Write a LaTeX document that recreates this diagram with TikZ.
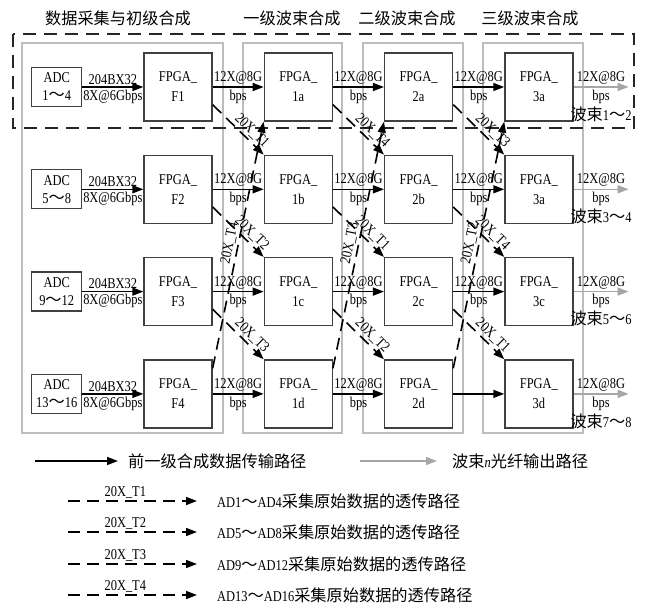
\documentclass[tikz,border=0pt]{standalone}
\usepackage{fontspec}
\setmainfont{Liberation Serif}[FakeStretch=0.83]
\newfontfamily\cjk[Scale=1.08]{Noto Sans CJK SC}
\usepackage{xcolor}
\definecolor{boxgray}{HTML}{404040}
\definecolor{grpgray}{HTML}{BDBDBD}
\definecolor{outgray}{HTML}{A6A6A6}
\usepackage{tikz}
\usetikzlibrary{arrows.meta,positioning,calc}

\begin{document}
\begin{tikzpicture}[x=1pt, y=-1pt,
  fpga/.style={draw=boxgray, line width=1.3pt, minimum width=68pt,
               minimum height=68pt, inner sep=0pt, align=center,
               font=\fontsize{15}{20}\selectfont},
  adc/.style={draw=boxgray, line width=1.3pt, minimum width=50pt,
              minimum height=39pt, inner sep=0pt, align=center,
              font=\fontsize{15}{18}\selectfont},
  arr/.style={-{Triangle[length=11pt,width=8pt]}, line width=1.5pt, color=black},
  garr/.style={-{Triangle[length=11pt,width=8pt]}, line width=1.5pt, color=outgray},
  tarr/.style={-{Triangle[length=11pt,width=8pt]}, line width=1.6pt,
               dash pattern=on 12pt off 7pt},
  grp/.style={draw=grpgray, line width=1.5pt},
  bigdash/.style={draw=black!85, line width=2pt, dash pattern=on 13pt off 8pt},
  lbl/.style={font=\fontsize{15}{20}\selectfont, inner sep=2pt, text=black},
  ttl/.style={font=\fontsize{15}{16}\selectfont\cjk},
  node distance=33pt and 51pt
]
  \useasboundingbox (0,0) rectangle (648,605);

  \draw[grp] (22,43) rectangle (223,433);
  \draw[grp] (243,43) rectangle (342,433);
  \draw[grp] (363,43) rectangle (463,433);
  \draw[grp] (483,43) rectangle (583,433);
  \draw[bigdash] (13,34) rectangle (634,128);

  \node[ttl] (ttl0) at (118,18) {数据采集与初级合成};
  \node[ttl] (ttl1) at (292,18) {一级波束合成};
  \node[ttl] (ttl2) at (407,18) {二级波束合成};
  \node[ttl] (ttl3) at (530,18) {三级波束合成};

  \node[fpga] (f1) at (178,87) {FPGA\_\\F1};
  \node[fpga, below=of f1] (f2) {FPGA\_\\F2};
  \node[fpga, below=of f2] (f3) {FPGA\_\\F3};
  \node[fpga, below=of f3] (f4) {FPGA\_\\F4};

  \node[adc, left=61pt of f1] (adc1) {ADC\\1{\cjk ～}4};
  \node[adc, left=61pt of f2] (adc2) {ADC\\5{\cjk ～}8};
  \node[adc, left=61pt of f3] (adc3) {ADC\\9{\cjk ～}12};
  \node[adc, left=61pt of f4] (adc4) {ADC\\13{\cjk ～}16};

  \node[fpga, right=of f1] (s1a) {FPGA\_\\1a};
  \node[fpga, right=of f2] (s1b) {FPGA\_\\1b};
  \node[fpga, right=of f3] (s1c) {FPGA\_\\1c};
  \node[fpga, right=of f4] (s1d) {FPGA\_\\1d};

  \node[fpga, right=of s1a] (s2a) {FPGA\_\\2a};
  \node[fpga, right=of s1b] (s2b) {FPGA\_\\2b};
  \node[fpga, right=of s1c] (s2c) {FPGA\_\\2c};
  \node[fpga, right=of s1d] (s2d) {FPGA\_\\2d};

  \node[fpga, right=of s2a] (s3a) {FPGA\_\\3a};
  \node[fpga, right=of s2b] (s3b) {FPGA\_\\3a};
  \node[fpga, right=of s2c] (s3c) {FPGA\_\\3c};
  \node[fpga, right=of s2d] (s3d) {FPGA\_\\3d};

  \coordinate[right=55pt of s3a] (out1);
  \coordinate[right=55pt of s3b] (out2);
  \coordinate[right=55pt of s3c] (out3);
  \coordinate[right=55pt of s3d] (out4);

  \draw[arr] (adc1) -- node[lbl, above]{204BX32} node[lbl, below]{8X@6Gbps} (f1);
  \draw[arr] (adc2) -- node[lbl, above]{204BX32} node[lbl, below]{8X@6Gbps} (f2);
  \draw[arr] (adc3) -- node[lbl, above]{204BX32} node[lbl, below]{8X@6Gbps} (f3);
  \draw[arr] (adc4) -- node[lbl, above]{204BX32} node[lbl, below]{8X@6Gbps} (f4);

  \draw[arr] (f1) -- node[lbl, above]{12X@8G} node[lbl, below]{bps} (s1a);
  \draw[arr] (f2) -- node[lbl, above]{12X@8G} node[lbl, below]{bps} (s1b);
  \draw[arr] (f3) -- node[lbl, above]{12X@8G} node[lbl, below]{bps} (s1c);
  \draw[arr] (f4) -- node[lbl, above]{12X@8G} node[lbl, below]{bps} (s1d);

  \draw[arr] (s1a) -- node[lbl, above]{12X@8G} node[lbl, below]{bps} (s2a);
  \draw[arr] (s1b) -- node[lbl, above]{12X@8G} node[lbl, below]{bps} (s2b);
  \draw[arr] (s1c) -- node[lbl, above]{12X@8G} node[lbl, below]{bps} (s2c);
  \draw[arr] (s1d) -- node[lbl, above]{12X@8G} node[lbl, below]{bps} (s2d);

  \draw[arr] (s2a) -- node[lbl, above]{12X@8G} node[lbl, below]{bps} (s3a);
  \draw[arr] (s2b) -- node[lbl, above]{12X@8G} node[lbl, below]{bps} (s3b);
  \draw[arr] (s2c) -- node[lbl, above]{12X@8G} node[lbl, below]{bps} (s3c);
  \draw[arr] (s2d) -- (s3d);

  \draw[garr] (s3a) -- node[lbl, above]{12X@8G}
    node[lbl, below, align=center]{bps\\{\cjk 波束}1{\cjk ～}2} (out1);
  \draw[garr] (s3b) -- node[lbl, above]{12X@8G}
    node[lbl, below, align=center]{bps\\{\cjk 波束}3{\cjk ～}4} (out2);
  \draw[garr] (s3c) -- node[lbl, above]{12X@8G}
    node[lbl, below, align=center]{bps\\{\cjk 波束}5{\cjk ～}6} (out3);
  \draw[garr] (s3d) -- node[lbl, above]{12X@8G}
    node[lbl, below, align=center]{bps\\{\cjk 波束}7{\cjk ～}8} (out4);

  \draw[tarr] ([yshift=17pt]f1.south east) -- node[lbl, above, sloped, pos=.65]{20X\_T1} (s1b.north west);
  \draw[tarr] ([yshift=17pt]f2.south east) -- node[lbl, above, sloped, pos=.65]{20X\_T2} (s1c.north west);
  \draw[tarr] ([yshift=17pt]f3.south east) -- node[lbl, above, sloped, pos=.65]{20X\_T3} (s1d.north west);
  \draw[tarr] ([yshift=-9pt]f4.north east) -- node[lbl, above, sloped, pos=.5]{20X\_T4} (s1a.south west);

  \draw[tarr] ([yshift=17pt]s1a.south east) -- node[lbl, above, sloped, pos=.65]{20X\_T4} (s2b.north west);
  \draw[tarr] ([yshift=17pt]s1b.south east) -- node[lbl, above, sloped, pos=.65]{20X\_T1} (s2c.north west);
  \draw[tarr] ([yshift=17pt]s1c.south east) -- node[lbl, above, sloped, pos=.65]{20X\_T2} (s2d.north west);
  \draw[tarr] ([yshift=-9pt]s1d.north east) -- node[lbl, above, sloped, pos=.5]{20X\_T3} (s2a.south west);

  \draw[tarr] ([yshift=17pt]s2a.south east) -- node[lbl, above, sloped, pos=.65]{20X\_T3} (s3b.north west);
  \draw[tarr] ([yshift=17pt]s2b.south east) -- node[lbl, above, sloped, pos=.65]{20X\_T4} (s3c.north west);
  \draw[tarr] ([yshift=17pt]s2c.south east) -- node[lbl, above, sloped, pos=.65]{20X\_T1} (s3d.north west);
  \draw[tarr] ([yshift=-9pt]s2d.north east) -- node[lbl, above, sloped, pos=.5]{20X\_T2} (s3a.south west);

  \coordinate (key0) at (35,461);
  \node[lbl, anchor=west] (keytxt0) at (126,461) {\cjk 前一级合成数据传输路径};
  \draw[arr, shorten >=8pt] (key0) -- (keytxt0);
  \coordinate (keyg) at (360,461);
  \node[lbl, anchor=west] (keytxtg) at (450,461) {{\cjk 波束}\textit{n}{\cjk 光纤输出路径}};
  \draw[garr, shorten >=13pt] (keyg) -- (keytxtg);

  \coordinate (key1) at (68,501);
  \node[lbl, anchor=west] (keytxt1) at (215,501) {AD1{\cjk ～}AD4{\cjk 采集原始数据的透传路径}};
  \draw[tarr, shorten >=18pt] (key1) -- node[lbl, above, pos=.39]{20X\_T1} (keytxt1);
  \coordinate (key2) at (68,532);
  \node[lbl, anchor=west] (keytxt2) at (215,532) {AD5{\cjk ～}AD8{\cjk 采集原始数据的透传路径}};
  \draw[tarr, shorten >=18pt] (key2) -- node[lbl, above, pos=.39]{20X\_T2} (keytxt2);
  \coordinate (key3) at (68,564);
  \node[lbl, anchor=west] (keytxt3) at (215,564) {AD9{\cjk ～}AD12{\cjk 采集原始数据的透传路径}};
  \draw[tarr, shorten >=18pt] (key3) -- node[lbl, above, pos=.39]{20X\_T3} (keytxt3);
  \coordinate (key4) at (68,595);
  \node[lbl, anchor=west] (keytxt4) at (215,595) {AD13{\cjk ～}AD16{\cjk 采集原始数据的透传路径}};
  \draw[tarr, shorten >=18pt] (key4) -- node[lbl, above, pos=.39]{20X\_T4} (keytxt4);
\end{tikzpicture}
\end{document}
